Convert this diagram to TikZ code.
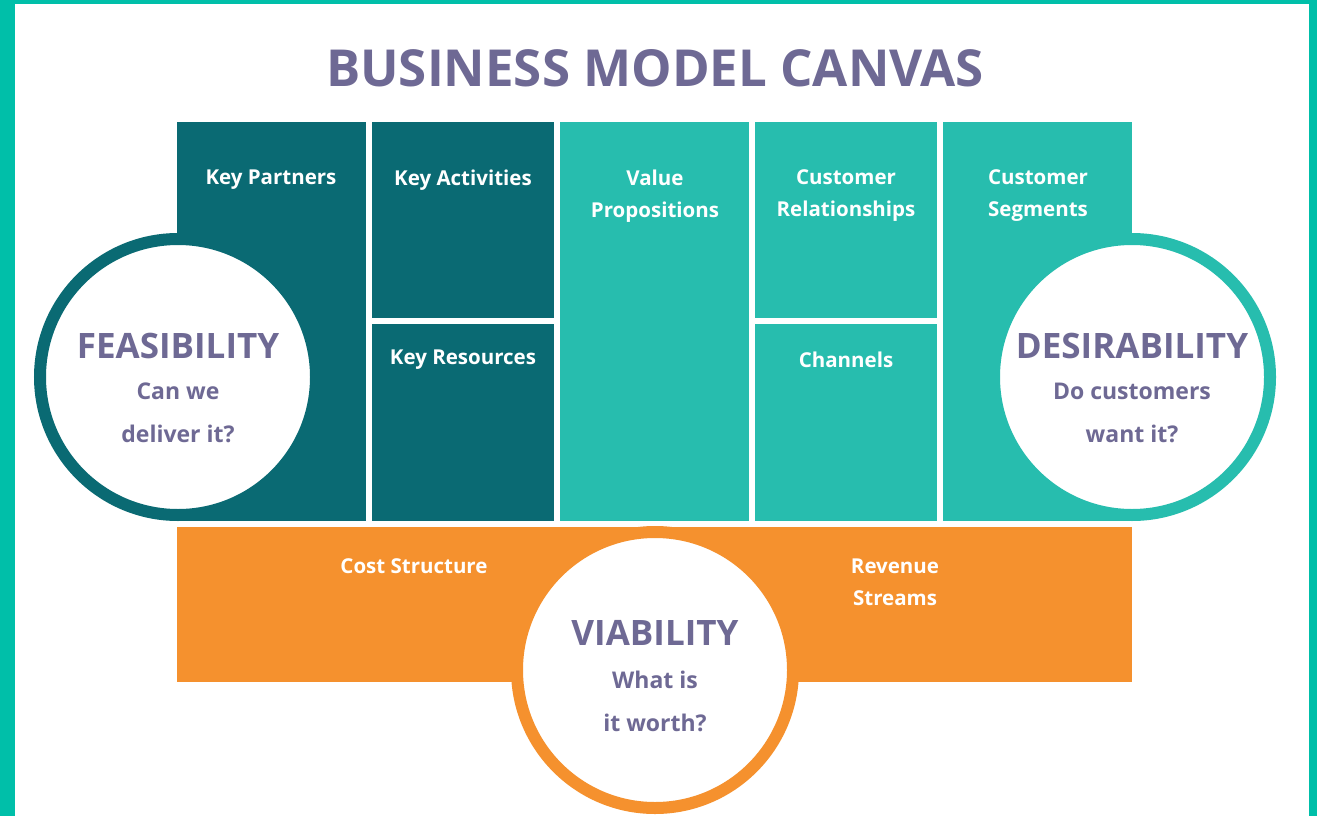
\documentclass[tikz,border=0pt]{standalone}
\usepackage{fontspec}
\setmainfont{Open Sans}
\usepackage{tikz}
\definecolor{frame}{HTML}{00BFA9}
\definecolor{darkteal}{HTML}{0A6A73}
\definecolor{lightteal}{HTML}{27BDAE}
\definecolor{bmcorange}{HTML}{F5912E}
\definecolor{slate}{HTML}{6E6994}

\begin{document}
\begin{tikzpicture}[x=1pt,y=-1pt,
  box/.style={inner sep=0pt, outer sep=0pt, anchor=north west},
  lbl/.style={text=white, font=\bfseries\fontsize{20.5}{32}\selectfont, align=center},
  ring/.style={circle, fill=white, line width=12pt, minimum size=276pt, inner sep=0pt},
  big/.style={text=slate, font=\bfseries\fontsize{35}{40}\selectfont},
  sub/.style={text=slate, font=\bfseries\fontsize{23}{43}\selectfont, align=center}]
\useasboundingbox (0,0) rectangle (1317,816);
\fill [frame] (0,0) rectangle (1317,816);
\fill [white] (15,4) rectangle (1309,816);
\node [text=slate, font=\bfseries\fontsize{51}{60}\selectfont] (title) at (655,68) {BUSINESS MODEL CANVAS};
\node [box, fill=darkteal, minimum width=189pt, minimum height=399pt] (kp) at (177,122) {};
\node [box, fill=darkteal, minimum width=182pt, minimum height=196pt] (ka) at (372,122) {};
\node [box, fill=darkteal, minimum width=182pt, minimum height=197pt] (kr) at (372,324) {};
\node [box, fill=lightteal, minimum width=189pt, minimum height=399pt] (vp) at (560,122) {};
\node [box, fill=lightteal, minimum width=182pt, minimum height=196pt] (cr) at (755,122) {};
\node [box, fill=lightteal, minimum width=182pt, minimum height=197pt] (ch) at (755,324) {};
\node [box, fill=lightteal, minimum width=189pt, minimum height=399pt] (cs) at (943,122) {};
\node [box, fill=bmcorange, minimum width=955pt, minimum height=155pt] (cost) at (177,527) {};
\node [lbl] (kplabel) at (271,180) {Key Partners};
\node [lbl] (kalabel) at (463,180) {Key Activities};
\node [lbl] (krlabel) at (463,360) {Key Resources};
\node [lbl] (vplabel) at (655,196) {Value\\Propositions};
\node [lbl] (crlabel) at (846,196) {Customer\\Relationships};
\node [lbl] (chlabel) at (846,360) {Channels};
\node [lbl] (cslabel) at (1038,196) {Customer\\Segments};
\node [lbl] (costlabel) at (414,566) {Cost Structure};
\node [lbl] (revlabel) at (895,582) {Revenue\\Streams};
\node [ring, draw=darkteal] (feas) at (178,377) {};
\node [ring, draw=lightteal] (des) at (1132,377) {};
\node [ring, draw=bmcorange] (via) at (655,670) {};
\node [big] (feastitle) at (178,346) {FEASIBILITY};
\node [sub] (feastext) at (178,413) {Can we\\deliver it?};
\node [big] (destitle) at (1132,346) {DESIRABILITY};
\node [sub] (destext) at (1132,413) {Do customers\\want it?};
\node [big] (viatitle) at (655,633) {VIABILITY};
\node [sub] (viatext) at (655,701) {What is\\it worth?};
\end{tikzpicture}
\end{document}
